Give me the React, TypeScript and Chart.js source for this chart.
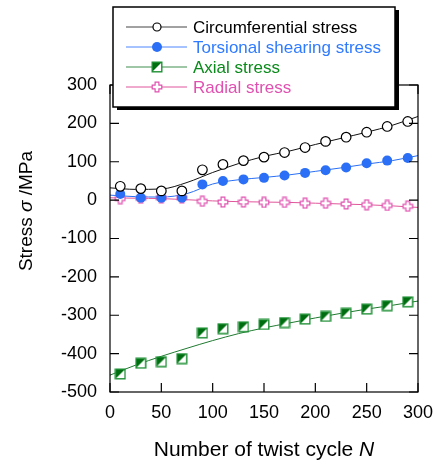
import { useEffect, useRef } from "react";
import { Chart, registerables } from "chart.js";
Chart.register(...registerables);

const cycles = [10, 30, 50, 70, 90, 110, 130, 150, 170, 190, 210, 230, 250, 270, 290];
const circumferential = [36, 30, 24, 24, 79, 93, 103, 112, 124, 137, 153, 164, 177, 192, 205];
const torsional = [16, 6, 6, 6, 41, 50, 54, 58, 64, 71, 78, 85, 96, 103, 110];
const axial = [-453, -425, -421, -413, -346, -335, -330, -324, -319, -310, -303, -295, -284, -275, -265];
const radial = [4, 5, 6, 6, -3, -5, -5, -6, -6, -8, -8, -10, -12, -14, -16];

const fitCycles = [0, 25, 50, 75, 100, 125, 150, 175, 200, 225, 250, 275, 300];
const circumferentialFit = [32, 28, 29, 46, 72, 95, 114, 128, 145, 161, 177, 195, 218];
const torsionalFit = [13, 9, 8, 17, 42, 53, 59, 66, 75, 84, 94, 103, 116];
const axialFit = [-456, -430, -407, -386, -366, -348, -333, -320, -307, -295, -284, -274, -263];
const radialFit = [6, 5, 4, 1, -2, -4, -5, -6, -8, -10, -12, -15, -19];

const xTicks = [0, 50, 100, 150, 200, 250, 300];
const yTicks = [-500, -400, -300, -200, -100, 0, 100, 200, 300];
const seriesNames = ["Circumferential stress", "Torsional shearing stress", "Axial stress", "Radial stress"];

const FONT = "'Liberation Sans', Arial, sans-serif";

function makeSquare(): HTMLCanvasElement {
  const c = document.createElement("canvas");
  const s = 12;
  c.width = s;
  c.height = s;
  const ctx = c.getContext("2d")!;
  const a = 1, b = 11;
  ctx.fillStyle = "#fff";
  ctx.fillRect(a, a, b - a, b - a);
  ctx.fillStyle = "#006e10";
  ctx.beginPath();
  ctx.moveTo(a, a);
  ctx.lineTo(b, a);
  ctx.lineTo(a, b);
  ctx.closePath();
  ctx.fill();
  ctx.strokeStyle = "#1f8f35";
  ctx.lineWidth = 1.4;
  ctx.strokeRect(a + 0.2, a + 0.2, b - a - 0.4, b - a - 0.4);
  return c;
}

function makePlus(): HTMLCanvasElement {
  const c = document.createElement("canvas");
  const s = 12;
  c.width = s;
  c.height = s;
  const ctx = c.getContext("2d")!;
  const m = 6, e = 4.8, w = 1.9;
  ctx.beginPath();
  ctx.moveTo(m - w, m - e);
  ctx.lineTo(m + w, m - e);
  ctx.lineTo(m + w, m - w);
  ctx.lineTo(m + e, m - w);
  ctx.lineTo(m + e, m + w);
  ctx.lineTo(m + w, m + w);
  ctx.lineTo(m + w, m + e);
  ctx.lineTo(m - w, m + e);
  ctx.lineTo(m - w, m + w);
  ctx.lineTo(m - e, m + w);
  ctx.lineTo(m - e, m - w);
  ctx.lineTo(m - w, m - w);
  ctx.closePath();
  ctx.fillStyle = "#fff";
  ctx.fill();
  ctx.strokeStyle = "#e050b0";
  ctx.lineWidth = 1.2;
  ctx.stroke();
  return c;
}

export default function App() {
  const ref = useRef<HTMLCanvasElement>(null);

  useEffect(() => {
    const square = makeSquare();
    const plus = makePlus();
    const pts = (ys: number[], xs: number[]) => xs.map((x, i) => ({ x, y: ys[i] }));

    const framePlugin = {
      id: "frame",
      afterDatasetsDraw(chart: any) {
        const { ctx, chartArea: a, scales } = chart;
        ctx.save();
        ctx.strokeStyle = "#000";
        ctx.lineWidth = 1.2;
        ctx.strokeRect(a.left, a.top, a.right - a.left, a.bottom - a.top);
        const tl = 9;
        ctx.beginPath();
        for (const v of yTicks) {
          const y = scales.y.getPixelForValue(v);
          ctx.moveTo(a.left, y);
          ctx.lineTo(a.left + tl, y);
          ctx.moveTo(a.right, y);
          ctx.lineTo(a.right - tl, y);
        }
        for (const v of xTicks) {
          const x = scales.x.getPixelForValue(v);
          ctx.moveTo(x, a.bottom);
          ctx.lineTo(x, a.bottom - tl);
          ctx.moveTo(x, a.top);
          ctx.lineTo(x, a.top + tl);
        }
        ctx.stroke();
        ctx.restore();
      },
      afterDraw(chart: any) {
        const { ctx, chartArea: a } = chart;
        ctx.save();
        // axis titles
        ctx.fillStyle = "#000";
        ctx.textBaseline = "middle";
        const xParts: [string, boolean][] = [["Number of twist cycle ", false], ["N", true]];
        const xs = 21;
        let total = 0;
        for (const [t, it] of xParts) {
          ctx.font = `${it ? "italic " : ""}${xs}px ${FONT}`;
          total += ctx.measureText(t).width;
        }
        let x = (a.left + a.right) / 2 - total / 2;
        ctx.textAlign = "left";
        for (const [t, it] of xParts) {
          ctx.font = `${it ? "italic " : ""}${xs}px ${FONT}`;
          ctx.fillText(t, x, 450);
          x += ctx.measureText(t).width;
        }
        const yParts: [string, boolean][] = [["Stress ", false], ["σ", true], [" /MPa", false]];
        const ys = 19;
        total = 0;
        for (const [t, it] of yParts) {
          ctx.font = `${it ? "italic " : ""}${ys}px ${FONT}`;
          total += ctx.measureText(t).width;
        }
        ctx.save();
        ctx.translate(27, 211);
        ctx.rotate(-Math.PI / 2);
        x = -total / 2;
        for (const [t, it] of yParts) {
          ctx.font = `${it ? "italic " : ""}${ys}px ${FONT}`;
          ctx.fillText(t, x, 0);
          x += ctx.measureText(t).width;
        }
        ctx.restore();

        // legend
        const bx = 113, by = 7, bw = 282, bh = 100;
        ctx.fillStyle = "#000";
        ctx.fillRect(bx + 4, by + 3, bw, bh);
        ctx.fillStyle = "#fff";
        ctx.fillRect(bx, by, bw, bh);
        ctx.strokeStyle = "#000";
        ctx.lineWidth = 1.5;
        ctx.strokeRect(bx, by, bw, bh);
        const lineColors = ["#444", "#4d86ff", "#3f8f4f", "#e0559a"];
        const textColors = ["#000", "#2f7bff", "#0a8a1a", "#e050b0"];
        seriesNames.forEach((name, i) => {
          const y = 27 + i * 20;
          ctx.strokeStyle = lineColors[i];
          ctx.lineWidth = 1;
          ctx.beginPath();
          ctx.moveTo(126, y);
          ctx.lineTo(187, y);
          ctx.stroke();
          const mx = 157;
          if (i === 0) {
            ctx.beginPath();
            ctx.arc(mx, y, 4, 0, Math.PI * 2);
            ctx.fillStyle = "#fff";
            ctx.fill();
            ctx.strokeStyle = "#000";
            ctx.lineWidth = 1.2;
            ctx.stroke();
          } else if (i === 1) {
            ctx.beginPath();
            ctx.arc(mx, y, 5, 0, Math.PI * 2);
            ctx.fillStyle = "#2a6ff5";
            ctx.fill();
          } else if (i === 2) {
            ctx.drawImage(square, mx - 6, y - 6);
          } else {
            ctx.drawImage(plus, mx - 6, y - 6);
          }
          ctx.fillStyle = textColors[i];
          ctx.font = `17px ${FONT}`;
          ctx.textAlign = "left";
          ctx.textBaseline = "middle";
          ctx.fillText(name, 193, y + 1);
        });
        ctx.restore();
      },
    };

    const chart = new Chart(ref.current!, {
      type: "scatter",
      data: {
        datasets: [
          {
            label: seriesNames[0],
            data: pts(circumferential, cycles),
            showLine: false,
            pointStyle: "circle",
            pointRadius: 4.8,
            pointBackgroundColor: "#fff",
            pointBorderColor: "#000",
            pointBorderWidth: 1.2,
          },
          {
            label: seriesNames[1],
            data: pts(torsional, cycles),
            showLine: false,
            pointStyle: "circle",
            pointRadius: 5,
            pointBackgroundColor: "#2a6ff5",
            pointBorderColor: "#2a6ff5",
            pointBorderWidth: 0,
          },
          {
            label: seriesNames[2],
            data: pts(axial, cycles),
            showLine: false,
            pointStyle: square as any,
          },
          {
            label: seriesNames[3],
            data: pts(radial, cycles),
            showLine: false,
            pointStyle: plus as any,
          },
          {
            label: "circFit",
            data: pts(circumferentialFit, fitCycles),
            showLine: true,
            pointRadius: 0,
            borderColor: "#111",
            borderWidth: 1,
            cubicInterpolationMode: "monotone",
          },
          {
            label: "torsFit",
            data: pts(torsionalFit, fitCycles),
            showLine: true,
            pointRadius: 0,
            borderColor: "#2a6ff5",
            borderWidth: 1,
            cubicInterpolationMode: "monotone",
          },
          {
            label: "axialFit",
            data: pts(axialFit, fitCycles),
            showLine: true,
            pointRadius: 0,
            borderColor: "#1f7a30",
            borderWidth: 1,
            cubicInterpolationMode: "monotone",
          },
          {
            label: "radialFit",
            data: pts(radialFit, fitCycles),
            showLine: true,
            pointRadius: 0,
            borderColor: "#e0559a",
            borderWidth: 1,
            cubicInterpolationMode: "monotone",
          },
        ] as any,
      },
      options: {
        responsive: false,
        animation: false,
        layout: { padding: { top: 85, right: 20, left: 0, bottom: 0 } },
        plugins: { legend: { display: false }, tooltip: { enabled: false } },
        scales: {
          x: {
            type: "linear",
            min: 0,
            max: 300,
            afterBuildTicks: (s: any) => {
              s.ticks = xTicks.map((v) => ({ value: v }));
            },
            afterFit: (s: any) => {
              s.height = 72;
              s.paddingLeft = 0;
              s.paddingRight = 0;
            },
            ticks: {
              color: "#000",
              font: { family: FONT, size: 18 },
              padding: 10,
              maxRotation: 0,
              callback: (v: any) => String(v),
            },
            grid: { display: false, drawTicks: false },
            border: { display: false },
          },
          y: {
            type: "linear",
            min: -500,
            max: 300,
            afterBuildTicks: (s: any) => {
              s.ticks = yTicks.map((v) => ({ value: v }));
            },
            afterFit: (s: any) => {
              s.width = 110;
              s.paddingTop = 0;
              s.paddingBottom = 0;
            },
            ticks: {
              color: "#000",
              font: { family: FONT, size: 18 },
              padding: 13,
              callback: (v: any) => String(v),
            },
            grid: { display: false, drawTicks: false },
            border: { display: false },
          },
        },
      },
      plugins: [framePlugin],
    });
    return () => chart.destroy();
  }, []);

  return (
    <div style={{ position: "fixed", left: 0, top: 0, width: 438, height: 464, background: "#fff" }}>
      <canvas ref={ref} width={438} height={464} />
    </div>
  );
}
